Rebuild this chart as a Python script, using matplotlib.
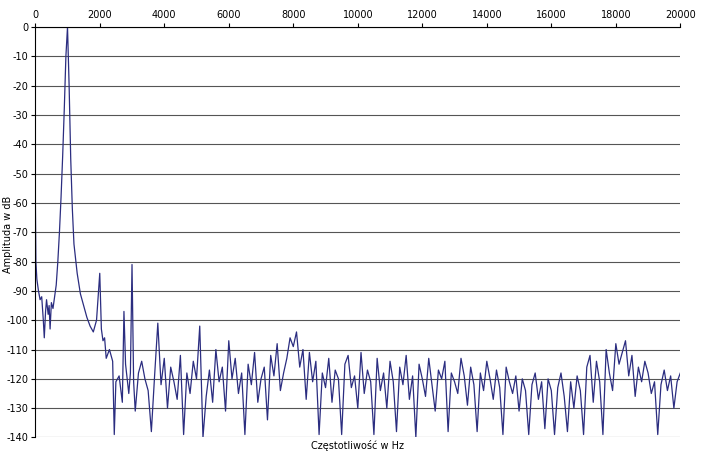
import matplotlib.pyplot as plt
import numpy as np

plt.rcParams['axes.unicode_minus'] = False

# --- Data ---
low_freq = [0, 20, 50, 100, 150, 200, 250, 280, 320, 350, 400, 430, 460, 500, 550, 600,
            650, 700, 750, 800, 850, 900, 950, 1000, 1050, 1100, 1150, 1200, 1300, 1400,
            1500, 1600, 1700, 1800, 1900, 2000, 2050, 2100, 2150, 2200, 2300, 2400, 2450,
            2500, 2600, 2700, 2750, 2800, 2900, 2950, 3000, 3050, 3100, 3200, 3300, 3400]
low_db = [-55, -80, -86, -90, -93, -92, -100, -106, -97, -93, -98, -95, -103, -94, -96, -92,
          -88, -80, -70, -58, -44, -28, -10, 0, -20, -45, -62, -74, -84, -91,
          -95, -99, -102, -104, -100, -84, -103, -107, -106, -113, -110, -114, -139,
          -121, -119, -128, -97, -115, -125, -118, -81, -121, -131, -118, -114, -120]

noise_db = [
    -124, -138, -119, -101, -122, -113, -130, -116, -121, -127, -112, -139, -118, -125,
    -114, -120, -102, -140, -126, -117, -128, -110, -121, -116, -131, -107, -120, -113,
    -125, -118, -139, -115, -122, -111, -128, -120, -116, -134, -112, -119, -108, -124,
    -118, -113, -106, -109, -104, -116, -110, -127, -111, -121, -114, -139, -118, -123,
    -113, -128, -117, -120, -139, -115, -112, -123, -119, -130, -111, -125, -117, -121,
    -139, -113, -124, -118, -130, -114, -121, -138, -116, -122, -112, -127, -119, -140,
    -115, -120, -126, -113, -122, -131, -117, -120, -114, -138, -118, -121, -125, -113,
    -119, -129, -116, -122, -138, -118, -124, -114, -120, -127, -117, -123, -139, -116,
    -121, -125, -119, -131, -120, -124, -139, -122, -118, -127, -121, -137, -120, -124,
    -139, -123, -118, -126, -138, -121, -130, -119, -124, -139, -116, -112, -128, -114,
    -121, -139, -110, -118, -124, -108, -115, -111, -107, -119, -112, -126, -116, -121,
    -114, -118, -125, -121, -139, -122, -117, -124, -119, -130, -121, -118,
]
noise_freq = list(range(3500, 3500 + 100 * len(noise_db), 100))

freq = np.array(low_freq + noise_freq)
db = np.array(low_db + noise_db)

# --- Plot ---
fig, ax = plt.subplots(figsize=(7.05, 4.51), dpi=100)
fig.subplots_adjust(left=0.05, right=0.965, top=0.94, bottom=0.03)

ax.plot(freq, db, color='#2b2d80', lw=0.9)
ax.set_xlim(0, 20000)
ax.set_ylim(-140, 0)
ax.set_xticks(range(0, 20001, 2000))
ax.set_yticks(range(-140, 1, 10))
ax.xaxis.tick_top()
ax.tick_params(labelsize=7, length=3, pad=2)
ax.yaxis.grid(True, color='#555555', lw=0.8)
for s in ['right', 'bottom']:
    ax.spines[s].set_visible(False)
fig.text(0.004, 0.48, 'Amplituda w dB', rotation=90, fontsize=7,
         ha='left', va='center')
ax.text(0.5, -0.005, 'Częstotliwość w Hz', transform=ax.transAxes,
        ha='center', va='top', fontsize=7)

fig.savefig('out.png')
